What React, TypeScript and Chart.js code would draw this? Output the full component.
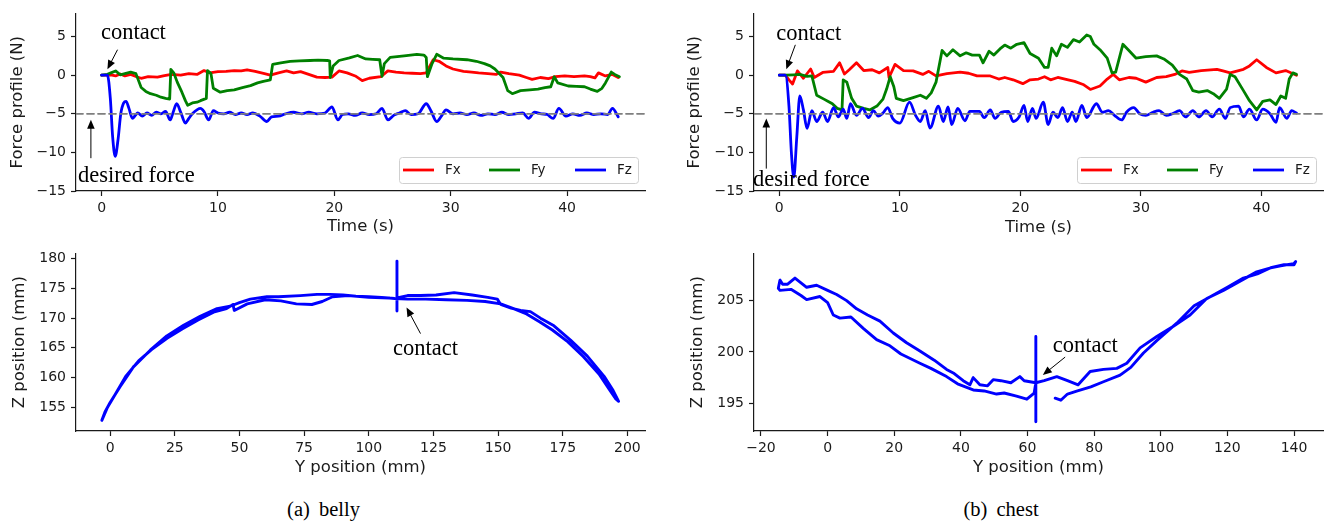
import React, { useEffect, useRef } from 'react';
import { Chart, registerables } from 'chart.js';

Chart.register(...registerables);

const SANS = "'DejaVu Sans', 'Liberation Sans', sans-serif";
const SERIF = "'Liberation Serif', 'Times New Roman', serif";
const INK = '#1a1a1a';

type Pt = [number, number];

// ---------- tick labels / categories ----------
const forceTicks = [-15, -10, -5, 0, 5];
const timeTicks = [0, 10, 20, 30, 40];
const bellyYTicks = [0, 25, 50, 75, 100, 125, 150, 175, 200];
const bellyZTicks = [155, 160, 165, 170, 175, 180];
const chestYTicks = [-20, 0, 20, 40, 60, 80, 100, 120, 140];
const chestZTicks = [195, 200, 205];
const forceLabels = ['Fx', 'Fy', 'Fz'];
const desiredForce = -5;

// ---------- belly force profile (t [s], N) ----------
const bellyFx: Pt[] = [[0,0],[0.5,0],[0.8,0.05],[1.2,-0.1],[1.6,0.15],[2.0,-0.1],[2.5,0.1],[3.0,-0.2],[3.4,-0.4],[4.0,-0.2],[4.8,-0.25],[5.4,-0.05],[6.0,0.1],[6.8,0.0],[7.5,0.2],[8.2,0.1],[8.8,0.6],[9.3,0.3],[10.0,0.45],[10.7,0.5],[11.4,0.6],[12.0,0.55],[12.5,0.7],[13.2,0.5],[14.0,0.2],[14.5,0.0],[15.2,0.3],[15.9,0.55],[16.5,0.3],[17.1,0.45],[17.8,0.1],[18.5,-0.25],[19.2,-0.3],[19.8,-0.25],[20.4,0.55],[21.1,0.3],[21.8,-0.1],[22.4,-0.7],[23.0,-0.4],[24.0,-0.2],[24.6,0.55],[25.3,0.4],[26.0,0.3],[26.7,0.25],[27.4,0.2],[27.9,0.3],[28.5,2.0],[29.0,1.8],[29.6,1.2],[30.2,0.8],[31.1,0.5],[31.8,0.4],[32.4,0.3],[33.2,0.2],[33.9,0.1],[34.3,0.4],[35.0,0.2],[35.9,0.0],[36.5,-0.3],[37.0,-0.55],[37.7,-0.3],[38.4,-0.45],[39.0,-0.2],[39.8,-0.1],[40.6,-0.2],[41.5,-0.1],[42.0,-0.2],[42.4,-0.35],[42.7,0.3],[43.3,-0.1],[43.9,0.1],[44.4,-0.3]];
const bellyFy: Pt[] = [[0,0],[0.5,0.1],[0.8,0.3],[1.2,0.55],[1.6,0.05],[2.0,0.2],[2.5,0.4],[2.95,0.2],[3.4,-1.6],[3.8,-2.1],[4.2,-2.4],[4.7,-2.6],[5.1,-2.85],[5.5,-3.0],[5.85,-3.1],[5.95,0.75],[6.2,0.3],[6.5,-0.9],[6.9,-2.2],[7.2,-3.3],[7.4,-3.9],[7.8,-3.6],[8.2,-3.5],[8.5,-3.3],[9.0,-3.0],[9.1,0.6],[9.4,0.2],[9.6,-1.7],[10.2,-2.2],[10.8,-2.0],[11.4,-1.9],[12.1,-1.6],[12.8,-1.35],[13.4,-1.0],[13.9,-0.8],[14.5,-0.6],[14.7,1.4],[15.4,1.6],[16.2,1.8],[17.0,1.85],[17.9,1.9],[18.6,1.95],[19.4,1.9],[19.6,1.85],[19.65,-0.3],[19.9,1.2],[20.4,1.9],[21.3,2.25],[22.0,2.55],[22.7,2.1],[23.3,2.05],[23.9,2.0],[24.1,-0.15],[24.3,1.5],[24.8,2.3],[26.0,2.5],[27.1,2.7],[27.7,2.6],[27.9,2.3],[28.0,-0.2],[28.4,1.5],[28.8,2.7],[29.4,2.2],[30.2,2.1],[31.4,2.0],[32.2,1.8],[32.9,1.5],[33.4,1.2],[33.8,0.8],[34.5,-0.3],[34.9,-2.0],[35.3,-2.4],[36.0,-2.0],[36.8,-1.9],[37.5,-1.8],[38.1,-1.6],[38.6,-1.5],[38.9,-0.2],[39.2,-1.0],[40.1,-1.4],[40.8,-1.45],[41.5,-1.5],[42.0,-1.8],[42.6,-2.1],[43.0,-1.7],[43.3,-1.0],[43.8,0.4],[44.1,0.1],[44.5,-0.2]];
const bellyFz: Pt[] = [[0,0],[0.5,0],[0.75,-3],[0.95,-8],[1.17,-10.5],[1.4,-8.5],[1.65,-5],[1.9,-3.6],[2.1,-3.4],[2.35,-4.3],[2.65,-5.6],[2.9,-5.2],[3.1,-4.9],[3.5,-5.3],[3.9,-4.9],[4.3,-5.2],[4.7,-4.8],[5.1,-5.0],[5.5,-4.7],[5.9,-5.8],[6.15,-4.8],[6.45,-3.7],[6.8,-4.8],[7.2,-6.2],[7.5,-5.6],[7.8,-5.0],[8.5,-4.3],[8.8,-4.7],[9.2,-5.8],[9.6,-4.6],[10.0,-4.9],[10.5,-5.0],[11.0,-4.8],[11.5,-5.1],[12.0,-4.9],[12.5,-5.1],[13.0,-4.9],[13.6,-5.3],[14.2,-6.0],[14.6,-5.4],[15.2,-5.3],[15.8,-5.0],[16.5,-4.8],[17.2,-5.0],[17.8,-4.8],[18.5,-5.0],[19.2,-4.9],[19.8,-4.1],[20.3,-5.8],[20.7,-5.1],[21.2,-5.0],[21.8,-5.2],[22.4,-4.9],[23.0,-5.1],[23.6,-5.0],[24.1,-4.3],[24.6,-5.8],[25.1,-5.2],[25.6,-4.9],[26.1,-4.6],[26.6,-5.1],[27.2,-5.0],[27.9,-3.7],[28.3,-4.6],[28.8,-6.0],[29.2,-5.3],[29.6,-4.5],[30.2,-5.0],[30.8,-4.9],[31.4,-5.1],[32.0,-4.9],[32.6,-5.2],[33.2,-5.0],[33.8,-5.1],[34.4,-4.8],[35.0,-5.1],[35.6,-5.0],[36.2,-4.9],[36.7,-5.6],[37.2,-4.8],[37.8,-5.0],[38.3,-5.1],[38.8,-5.6],[39.3,-4.3],[39.9,-5.3],[40.5,-5.0],[41.1,-5.2],[41.7,-4.9],[42.3,-5.1],[42.9,-5.0],[43.5,-5.1],[43.9,-4.3],[44.4,-5.4]];

// ---------- chest force profile (t [s], N) ----------
const chestFx: Pt[] = [[0,0],[0.5,0],[0.8,-0.6],[1.1,-1.14],[1.5,0.55],[2.0,-0.4],[2.6,0.8],[2.9,-0.3],[3.6,0.35],[4.5,0.5],[5.0,1.6],[5.4,0.15],[5.8,0.7],[6.4,1.6],[7.0,0.6],[7.7,0.7],[8.3,0.3],[9.0,1.0],[9.1,-0.3],[9.6,1.4],[10.3,0.6],[11.1,0.55],[11.9,0.1],[12.4,0.5],[13.0,-0.1],[13.9,0.2],[15.0,0.4],[15.7,0.25],[16.4,-0.1],[17.5,-0.1],[18.2,-0.5],[18.7,-0.3],[19.4,-0.6],[20.2,-1.1],[20.8,-0.6],[21.5,-0.5],[22.0,-0.2],[22.5,-0.6],[23.1,-0.3],[23.7,-0.5],[24.5,-0.8],[25.2,-1.2],[25.8,-1.85],[26.6,-1.4],[27.2,-0.5],[27.7,0.1],[28.2,-0.6],[29.0,-0.3],[29.6,-0.4],[30.4,-0.9],[31.3,-0.3],[32.1,-0.2],[32.8,0.1],[33.4,0.55],[34.0,0.35],[35.0,0.6],[36.3,0.76],[36.8,0.55],[37.4,0.3],[38.5,0.76],[39.0,1.2],[39.6,2.0],[40.4,1.0],[41.2,0.3],[42.0,0.6],[42.9,0.0]];
const chestFy: Pt[] = [[0,0],[0.5,0],[1.2,0.05],[1.7,0.1],[2.3,-0.15],[2.7,-0.1],[3.1,-2.6],[3.7,-3.1],[4.1,-3.45],[4.4,-3.7],[4.8,-4.3],[5.2,-4.5],[5.3,-0.6],[5.6,-0.9],[6.0,-3.0],[6.4,-4.0],[7.0,-4.3],[7.5,-4.5],[8.1,-4.0],[8.6,-3.1],[8.9,-1.8],[9.2,-0.2],[9.5,-1.5],[9.7,-3.0],[10.3,-3.3],[11.1,-2.9],[11.7,-2.6],[12.2,-3.0],[12.6,-2.3],[13.0,-0.9],[13.5,3.2],[13.9,2.5],[14.4,3.3],[15.0,2.5],[15.5,2.9],[16.0,2.6],[16.6,2.6],[16.9,1.6],[17.4,3.1],[17.8,2.6],[18.3,3.4],[18.7,3.9],[19.2,3.5],[19.7,4.0],[20.3,4.2],[20.8,2.8],[21.5,2.2],[22.0,1.0],[22.3,1.0],[22.6,3.5],[23.0,2.5],[23.4,4.0],[23.9,3.6],[24.4,4.6],[24.9,4.3],[25.5,5.2],[25.8,5.0],[26.1,4.0],[26.6,3.3],[27.2,2.2],[27.6,0.3],[27.9,0.4],[28.5,4.0],[29.0,3.2],[29.6,2.2],[30.4,2.4],[31.3,2.5],[31.9,2.1],[32.6,1.3],[33.2,0.1],[33.8,-0.5],[34.3,-2.0],[34.8,-2.2],[35.5,-2.0],[36.0,-2.4],[36.5,-3.0],[37.1,-1.8],[37.4,0.1],[37.8,-0.2],[38.5,-2.0],[39.0,-3.3],[39.6,-4.5],[40.1,-3.4],[40.7,-3.2],[41.2,-3.8],[41.6,-2.7],[42.0,-3.0],[42.3,-0.5],[42.6,0.3],[42.9,0.1]];
const chestFz: Pt[] = [[0,0],[0.5,0],[0.8,-4],[1.0,-10],[1.2,-13.2],[1.45,-8],[1.7,-2.7],[2.0,-4.5],[2.3,-6.9],[2.7,-4.6],[3.1,-6.0],[3.6,-4.8],[4.0,-6.0],[4.5,-4.2],[4.9,-5.4],[5.3,-4.4],[5.6,-5.6],[5.9,-3.7],[6.4,-5.2],[6.9,-4.3],[7.4,-5.5],[7.8,-4.6],[8.2,-5.3],[8.6,-4.9],[9.0,-4.2],[9.4,-5.6],[10.0,-6.2],[10.8,-3.5],[11.3,-5.2],[11.7,-6.0],[12.1,-4.6],[12.5,-6.85],[13.2,-4.0],[13.6,-6.0],[14.0,-4.1],[14.3,-6.4],[14.8,-4.3],[15.4,-5.9],[15.8,-4.7],[16.6,-4.7],[17.0,-5.5],[17.5,-4.5],[17.9,-5.6],[18.4,-4.8],[19.0,-4.7],[19.4,-6.0],[19.9,-5.4],[20.3,-3.9],[20.6,-6.0],[21.0,-4.3],[21.3,-5.6],[21.9,-3.5],[22.3,-6.4],[22.7,-4.8],[23.1,-5.5],[23.5,-4.2],[23.9,-6.0],[24.3,-4.8],[24.6,-6.0],[25.1,-3.9],[25.5,-5.5],[26.3,-3.7],[26.8,-4.8],[27.3,-4.6],[27.8,-5.2],[28.4,-5.8],[28.8,-4.8],[29.4,-4.2],[29.9,-5.0],[30.4,-5.2],[31.0,-4.8],[31.5,-4.6],[32.1,-5.2],[32.6,-5.0],[33.2,-4.6],[33.7,-5.4],[34.3,-4.6],[34.8,-5.4],[35.4,-4.6],[35.9,-5.4],[36.5,-4.4],[37.0,-5.6],[37.4,-4.2],[38.1,-4.0],[38.5,-5.4],[39.0,-4.4],[39.6,-5.8],[40.1,-4.4],[40.7,-5.0],[41.2,-6.1],[41.5,-4.2],[42.1,-5.6],[42.5,-4.6],[42.9,-4.9]];

// ---------- belly trajectory (Y mm, Z mm) ----------
const bellyPath: Pt[] = [[110.9,173.5],[110.9,179.6],[110.9,171.2],[110.9,173.4],[115,173.8],[120,173.8],[126,173.9],[133,174.3],[140,173.9],[146,173.5],[149.7,173.2],[151,172.3],[155,171.7],[158.7,171.3],[162.5,171.1],[166.4,170.0],[171.6,168.7],[178,166.3],[184.5,163.6],[191,160.2],[194.5,157.8],[196.6,156.0],[195.5,156.4],[193,158.0],[189,160.6],[183,163.5],[177,166.0],[171,168.0],[166,169.4],[161,170.7],[156,171.6],[151,172.4],[145,172.8],[138,173.0],[130,173.1],[122,173.2],[115,173.2],[110,173.3],[105,173.5],[100,173.6],[95,173.7],[90,173.9],[85,174.0],[80,174.0],[73.5,173.8],[65,173.6],[60.6,173.6],[54.2,173.2],[50,172.6],[46.4,172.0],[41.3,171.6],[34.8,170.3],[28.4,168.8],[21.9,167.0],[15.5,164.6],[9,161.8],[3.9,158.5],[0,155.8],[-2,154.2],[-3.2,152.8],[-3.0,153.0],[-1,155.0],[2,157.2],[6,160.2],[11,162.8],[16,164.7],[22,166.6],[28,168.2],[34,169.7],[40,171.0],[45,171.6],[47.5,172.3],[48,171.3],[53,172.4],[60,173.1],[66,172.9],[72,172.4],[78,172.3],[82,172.8],[86,173.6],[92,173.8],[100,173.5],[108,173.4]];

// ---------- chest trajectory (Y mm, Z mm) ----------
const chestPath: Pt[] = [[62.5,197.1],[62.5,201.5],[62.5,193.2],[62.5,197.0],[59,197.2],[57.7,197.6],[55,197.0],[52,197.2],[49.7,197.3],[48,196.7],[45.7,196.8],[43.7,197.5],[42.7,196.8],[40.7,197.2],[38,197.9],[35.7,198.3],[32,199.2],[27.7,200.1],[23.7,200.9],[19.7,201.85],[15.7,203.0],[12,203.6],[8.7,204.2],[5.7,205.0],[2.7,205.6],[0,206.0],[-3.3,206.5],[-6.3,206.3],[-9.8,207.2],[-12,206.6],[-13.5,206.6],[-14.3,207.0],[-14.8,206.2],[-14.3,206.0],[-11,206.1],[-8,205.5],[-6.3,205.1],[-2.3,205.4],[0,204.8],[1.7,203.6],[3.7,203.3],[7,203.4],[10.7,202.3],[14.7,201.2],[18.7,200.6],[22,199.8],[27.7,198.9],[31,198.4],[35.7,197.6],[39,196.9],[43.7,196.3],[47,196.2],[50.7,195.9],[53,196.0],[56.7,195.7],[59.8,195.4],[62.0,196.0],[62.5,197.0],[65,197.2],[68.8,197.6],[72,197.2],[75.2,196.8],[78.8,198.1],[82.8,198.3],[86.8,198.4],[89.8,198.9],[93.8,200.4],[98.8,201.5],[103.8,202.5],[108.8,203.6],[113.8,205.2],[118.8,206.0],[123.8,206.9],[128.8,207.8],[133,208.2],[136,208.4],[139.9,208.6],[140.5,208.8],[140,208.5],[137,208.5],[133,208.2],[129,207.6],[124.8,207.2],[120,206.3],[115,205.4],[110,204.5],[104.8,202.8],[98.8,201.1],[94.8,199.9],[91,198.5],[87.8,197.75],[82.8,197.1],[79,196.6],[75,196.2],[72,195.9],[70,195.3],[68.3,195.5]];

const toXY = (a: Pt[]) => a.map(([x, y]) => ({ x, y }));
const fmt = (v: number) => (v < 0 ? '\u2212' + Math.abs(v) : String(v));

interface Note { text: string; tx: number; ty: number; arrow: [number, number, number, number]; }

function drawArrow(ctx: CanvasRenderingContext2D, x1: number, y1: number, x2: number, y2: number) {
  const a = Math.atan2(y2 - y1, x2 - x1);
  const L = 9, W = 3.8;
  const c = Math.cos(a), s = Math.sin(a);
  ctx.strokeStyle = '#000';
  ctx.fillStyle = '#000';
  ctx.lineWidth = 1;
  ctx.beginPath();
  ctx.moveTo(x1, y1);
  ctx.lineTo(x2 - L * c * 0.7, y2 - L * s * 0.7);
  ctx.stroke();
  ctx.beginPath();
  ctx.moveTo(x2, y2);
  ctx.lineTo(x2 - L * c + W * s, y2 - L * s - W * c);
  ctx.lineTo(x2 - L * c - W * s, y2 - L * s + W * c);
  ctx.closePath();
  ctx.fill();
}

function overlayPlugin(notes: Note[], legend: { label: string; color: string }[] | null) {
  return {
    id: 'overlay',
    afterDraw(chart: any) {
      const { ctx, chartArea } = chart;
      const xs = chart.scales.x, ys = chart.scales.y;
      ctx.save();
      if (legend) {
        const w = 239, h = 26;
        const bx = chartArea.right - 7 - w;
        const by = chartArea.bottom - 8 - h;
        ctx.beginPath();
        (ctx as any).roundRect(bx + 0.5, by + 0.5, w, h, 3);
        ctx.fillStyle = 'rgba(255,255,255,0.85)';
        ctx.fill();
        ctx.strokeStyle = '#d0d0d0';
        ctx.lineWidth = 1;
        ctx.stroke();
        const cy = by + h / 2;
        legend.forEach((e, i) => {
          const lx = bx + 4 + i * 86;
          ctx.strokeStyle = e.color;
          ctx.lineWidth = 2.8;
          ctx.beginPath();
          ctx.moveTo(lx, cy);
          ctx.lineTo(lx + 31, cy);
          ctx.stroke();
          ctx.fillStyle = INK;
          ctx.font = `13.5px ${SANS}`;
          ctx.textAlign = 'left';
          ctx.textBaseline = 'middle';
          ctx.fillText(e.label, lx + 42, cy + 0.5);
        });
      }
      for (const n of notes) {
        ctx.font = `22.5px ${SERIF}`;
        ctx.fillStyle = '#000';
        ctx.textAlign = 'left';
        ctx.textBaseline = 'alphabetic';
        ctx.fillText(n.text, xs.getPixelForValue(n.tx), ys.getPixelForValue(n.ty));
        const [ax, ay, hx, hy] = n.arrow;
        drawArrow(ctx, xs.getPixelForValue(ax), ys.getPixelForValue(ay), xs.getPixelForValue(hx), ys.getPixelForValue(hy));
      }
      ctx.restore();
    },
  };
}

function axis(ticks: number[], min: number, max: number, title: string, titlePad: any, fit: (s: any) => void, labelPad: number) {
  return {
    type: 'linear',
    min,
    max,
    afterBuildTicks: (s: any) => { s.ticks = ticks.map((value) => ({ value })); },
    afterFit: fit,
    grid: { drawOnChartArea: false, drawTicks: true, tickLength: 5, tickWidth: 1.2, tickColor: INK, color: INK },
    border: { display: true, color: INK, width: 1.2 },
    ticks: { font: { family: SANS, size: 14 }, color: INK, padding: labelPad, autoSkip: false, maxRotation: 0, callback: (v: any) => fmt(Number(v)) },
    title: { display: true, text: title, font: { family: SANS, size: 16.5 }, color: INK, padding: titlePad },
  };
}

interface Frame { pad: any; yWidth: number; xHeight: number; yTitlePad: number; xTitlePad: number; }

function forceConfig(fx: Pt[], fy: Pt[], fz: Pt[], xMin: number, xMax: number, f: Frame, notes: Note[]) {
  const colors = ['#ff0000', '#008000', '#0000ff'];
  return {
    type: 'line',
    data: {
      datasets: [
        { data: toXY([[xMin, desiredForce], [xMax, desiredForce]]), borderColor: '#7f7f7f', borderDash: [7, 4], borderWidth: 1.8, order: 0 },
        { label: forceLabels[2], data: toXY(fz), borderColor: colors[2], order: 1, cubicInterpolationMode: 'monotone' },
        { label: forceLabels[1], data: toXY(fy), borderColor: colors[1], order: 2 },
        { label: forceLabels[0], data: toXY(fx), borderColor: colors[0], order: 3 },
      ],
    },
    options: {
      responsive: false,
      animation: false,
      events: [],
      layout: { padding: f.pad },
      elements: { point: { radius: 0 }, line: { borderWidth: 2.8, tension: 0, borderJoinStyle: 'round', borderCapStyle: 'round' } },
      plugins: { legend: { display: false }, tooltip: { enabled: false } },
      scales: {
        x: axis(timeTicks, xMin, xMax, 'Time (s)', { top: 0, bottom: f.xTitlePad }, (s: any) => { s.height = f.xHeight; }, 4),
        y: axis(forceTicks, -15, 8, 'Force profile (N)', { top: f.yTitlePad, bottom: 0 }, (s: any) => { s.width = f.yWidth; }, 5),
      },
    },
    plugins: [overlayPlugin(notes, forceLabels.map((l, i) => ({ label: l, color: colors[i] })))],
  };
}

function pathConfig(path: Pt[], xT: number[], yT: number[], xMin: number, xMax: number, yMin: number, yMax: number, f: Frame, notes: Note[]) {
  return {
    type: 'scatter',
    data: {
      datasets: [
        { data: toXY(path), showLine: true, borderColor: '#0000ff', backgroundColor: '#0000ff', borderWidth: 2.9, pointRadius: 0, tension: 0 },
      ],
    },
    options: {
      responsive: false,
      animation: false,
      events: [],
      layout: { padding: f.pad },
      elements: { line: { borderJoinStyle: 'round', borderCapStyle: 'round' } },
      plugins: { legend: { display: false }, tooltip: { enabled: false } },
      scales: {
        x: axis(xT, xMin, xMax, 'Y position (mm)', { top: 0, bottom: f.xTitlePad }, (s: any) => { s.height = f.xHeight; }, 4),
        y: axis(yT, yMin, yMax, 'Z position (mm)', { top: f.yTitlePad, bottom: 0 }, (s: any) => { s.width = f.yWidth; }, 5),
      },
    },
    plugins: [overlayPlugin(notes, null)],
  };
}

function Plot({ make, left, top, width, height }: { make: () => any; left: number; top: number; width: number; height: number }) {
  const ref = useRef<HTMLCanvasElement>(null);
  useEffect(() => {
    const chart = new Chart(ref.current as HTMLCanvasElement, make());
    return () => chart.destroy();
  }, []);
  return <canvas ref={ref} width={width} height={height} style={{ position: 'absolute', left, top, width, height }} />;
}

const bellyNotes: Note[] = [
  { text: 'contact', tx: -0.06, ty: 4.68, arrow: [1.37, 3.3, 0.5, 0.77] },
  { text: 'desired force', tx: -2.03, ty: -13.8, arrow: [-0.92, -10.75, -0.92, -5.78] },
];
const chestNotes: Note[] = [
  { text: 'contact', tx: -0.25, ty: 4.53, arrow: [1.33, 3.93, 0.58, 0.76] },
  { text: 'desired force', tx: -2.18, ty: -14.38, arrow: [-1.08, -12.1, -1.08, -5.6] },
];
const bellyPathNotes: Note[] = [{ text: 'contact', tx: 109.4, ty: 163.86, arrow: [120, 167.4, 114.6, 171.8] }];
const chestPathNotes: Note[] = [{ text: 'contact', tx: 67.6, ty: 199.95, arrow: [71.3, 199.5, 64.6, 197.75] }];

export default function App() {
  const capStyle: React.CSSProperties = {
    position: 'absolute', top: 499, width: 200, textAlign: 'center', fontFamily: SERIF, fontSize: 20.5,
    lineHeight: '21px', color: '#000', wordSpacing: 4, whiteSpace: 'pre',
  };
  return (
    <div style={{ position: 'fixed', left: 0, top: 0, width: 1326, height: 527, background: '#fff', overflow: 'hidden' }}>
      <Plot left={0} top={0} width={663} height={240}
        make={() => forceConfig(bellyFx, bellyFy, bellyFz, -2.2, 46.7,
          { pad: { left: 0, right: 18, top: 10, bottom: 0 }, yWidth: 76, xHeight: 49, yTitlePad: 8, xTitlePad: 3 }, bellyNotes)} />
      <Plot left={663} top={0} width={663} height={240}
        make={() => forceConfig(chestFx, chestFy, chestFz, -2.1, 45.1,
          { pad: { left: 14, right: 3, top: 10, bottom: 0 }, yWidth: 77, xHeight: 49, yTitlePad: 8, xTitlePad: 2 }, chestNotes)} />
      <Plot left={0} top={240} width={663} height={245}
        make={() => pathConfig(bellyPath, bellyYTicks, bellyZTicks, -13.2, 206.8, 151.0, 180.9,
          { pad: { left: 0, right: 18, top: 10, bottom: 0 }, yWidth: 76, xHeight: 54, yTitlePad: 10, xTitlePad: 7 }, bellyPathNotes)} />
      <Plot left={663} top={240} width={663} height={245}
        make={() => pathConfig(chestPath, chestYTicks, chestZTicks, -22.1, 148.7, 192.3, 209.6,
          { pad: { left: 15, right: 3, top: 8, bottom: 0 }, yWidth: 76, xHeight: 54, yTitlePad: 10, xTitlePad: 7 }, chestPathNotes)} />
      <div style={{ ...capStyle, left: 323.5 - 100 }}>(a) belly</div>
      <div style={{ ...capStyle, left: 1001 - 100 }}>(b) chest</div>
    </div>
  );
}
